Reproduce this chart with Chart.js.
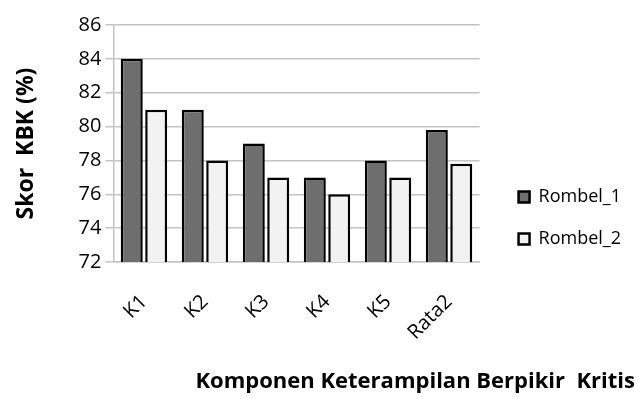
<!DOCTYPE html>
<html>
<head>
<meta charset="utf-8">
<script src="https://cdn.jsdelivr.net/npm/chart.js@4/dist/chart.umd.min.js"></script>
<style>
  html, body { margin: 0; padding: 0; background: #fff; }
  #wrap { width: 638px; height: 399px; }
</style>
</head>
<body>
<div id="wrap"><canvas id="myChart" width="638" height="399"></canvas></div>
<script>
// categories and values
var labels = ['K1', 'K2', 'K3', 'K4', 'K5', 'Rata2'];
var rombel1 = [84, 81, 79, 77, 78, 79.8];
var rombel2 = [81, 78, 77, 76, 77, 77.8];
var seriesNames = ['Rombel_1', 'Rombel_2'];

var fontName = '"Open Sans", sans-serif';
var gridGray = '#c4c4c4';

// nudge legend and bottom title a bit, like the original layout
var nudge = {
    id: 'nudge',
    afterLayout: function (chart) {
        var lg = chart.legend;
        if (lg) {
            lg.left += 15;
            lg.right += 15;
            lg.top += 8;
            lg.bottom += 8;
        }
        var tt = chart.titleBlock;
        if (tt) {
            tt.left += 19;
            tt.right += 19;
        }
    }
};

const ctx = document.getElementById('myChart').getContext('2d');

var config = {
    type: 'bar',
    data: {
        labels: labels,
        datasets: [{
            label: seriesNames[0],
            data: rombel1,
            backgroundColor: '#6e6e6e',
            borderColor: '#000',
            borderWidth: 2.5,
            borderSkipped: false
        }, {
            label: seriesNames[1],
            data: rombel2,
            backgroundColor: '#f2f2f2',
            borderColor: '#000',
            borderWidth: 2.5,
            borderSkipped: false
        }]
    },
    options: {
        responsive: false,
        animation: false,
        layout: {
            padding: { left: 8, right: 22, top: 25, bottom: 4 }
        },
        plugins: {
            tooltip: { enabled: false },
            title: {
                display: true,
                position: 'bottom',
                align: 'end',
                text: 'Komponen Keterampilan Berpikir  Kritis',
                color: '#000',
                font: { family: fontName, size: 22, weight: 'bold' },
                padding: { top: 4, bottom: 0 }
            },
            legend: {
                position: 'right',
                labels: {
                    color: '#000',
                    font: { family: fontName, size: 18 },
                    boxWidth: 11,
                    boxHeight: 11,
                    padding: 24
                }
            }
        },
        scales: {
            x: {
                categoryPercentage: 0.6,
                barPercentage: 1.0,
                grid: { display: false },
                border: { display: true, color: gridGray, width: 1.5 },
                ticks: {
                    color: '#000',
                    font: { family: fontName, size: 20 },
                    minRotation: 45,
                    maxRotation: 45,
                    padding: 20
                }
            },
            y: {
                min: 72,
                max: 86,
                ticks: {
                    stepSize: 1,
                    color: '#000',
                    font: { family: fontName, size: 20 },
                    padding: 4,
                    callback: function (value) {
                        return value % 2 === 0 ? value : '';
                    }
                },
                grid: {
                    color: gridGray,
                    lineWidth: 1.5,
                    tickLength: 8,
                    tickColor: function (c) {
                        return c.tick && c.tick.value % 2 === 0 ? gridGray : 'rgba(0,0,0,0)';
                    }
                },
                border: { display: true, color: gridGray, width: 1.5 },
                title: {
                    display: true,
                    text: 'Skor  KBK (%)',
                    color: '#000',
                    font: { family: fontName, size: 23, weight: 'bold' },
                    padding: { top: 5, bottom: 34 }
                }
            }
        }
    },
    plugins: [nudge]
};

let myChart = new Chart(ctx, config);
</script>
</body>
</html>
